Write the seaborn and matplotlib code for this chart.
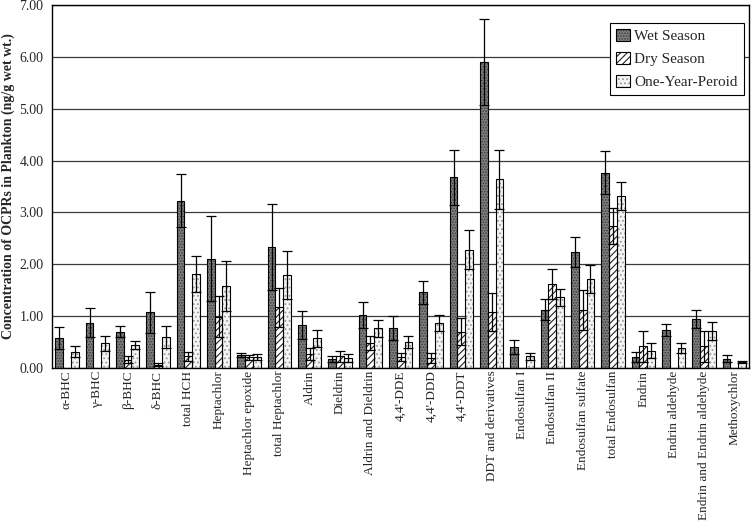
import numpy as np
import pandas as pd
import matplotlib
matplotlib.use("Agg")
import matplotlib.pyplot as plt
from matplotlib.patches import Rectangle, Patch
import seaborn as sns

categories = ["α-BHC", "γ-BHC", "β-BHC", "δ-BHC", "total HCH", "Heptachlor",
              "Heptachlor epoxide", "total Heptachlor", "Aldrin", "Dieldrin",
              "Aldrin and Dieldrin", "4,4'-DDE", "4,4'-DDD", "4,4'-DDT",
              "DDT and derivatives", "Endosulfan I", "Endosulfan II",
              "Endosulfan sulfate", "total Endosulfan", "Endrin",
              "Endrin aldehyde", "Endrin and Endrin aldehyde", "Methoxychlor"]

wet = [0.58, 0.87, 0.70, 1.07, 3.23, 2.11, 0.24, 2.34, 0.83, 0.17, 1.02, 0.77,
       1.46, 3.68, 5.91, 0.40, 1.12, 2.24, 3.77, 0.21, 0.73, 0.94, 0.18]
wet_err = [0.21, 0.28, 0.11, 0.40, 0.52, 0.82, 0.04, 0.83, 0.27, 0.06, 0.25, 0.23,
           0.22, 0.53, 0.83, 0.13, 0.20, 0.29, 0.42, 0.09, 0.12, 0.18, 0.06]

dry = [np.nan, np.nan, 0.16, 0.06, 0.22, 0.99, 0.20, 1.17, 0.27, 0.22, 0.48, 0.21,
       0.19, 0.70, 1.08, np.nan, 1.62, 1.12, 2.74, 0.42, np.nan, 0.42, np.nan]
dry_err = [np.nan, np.nan, 0.06, 0.03, 0.08, 0.39, 0.05, 0.38, 0.11, 0.10, 0.14, 0.07,
           0.09, 0.26, 0.36, np.nan, 0.29, 0.39, 0.35, 0.30, np.nan, 0.30, np.nan]

oneyear = [0.31, 0.47, 0.44, 0.60, 1.81, 1.58, 0.21, 1.79, 0.57, 0.19, 0.76, 0.50,
           0.87, 2.28, 3.64, 0.22, 1.36, 1.72, 3.31, 0.33, 0.38, 0.71, 0.12]
oneyear_err = [0.11, 0.15, 0.07, 0.21, 0.34, 0.48, 0.05, 0.47, 0.16, 0.07, 0.17, 0.12,
               0.15, 0.38, 0.57, 0.07, 0.17, 0.27, 0.27, 0.14, 0.09, 0.17, 0.02]

series = ["Wet Season", "Dry Season", "One-Year-Peroid"]
values = {"Wet Season": wet, "Dry Season": dry, "One-Year-Peroid": oneyear}
errors = {"Wet Season": wet_err, "Dry Season": dry_err, "One-Year-Peroid": oneyear_err}

rows = []
for s in series:
    for c, v, e in zip(categories, values[s], errors[s]):
        rows.append({"compound": c, "season": s, "value": v, "err": e})
df = pd.DataFrame(rows)

sns.set_style("white")
plt.rcParams["font.family"] = ["Liberation Serif", "DejaVu Serif"]
plt.rcParams["hatch.linewidth"] = 0.8

styles = {
    "Wet Season": dict(fc="#7e7e7e", hc="#3c3c3c", hatch="......"),
    "Dry Season": dict(fc="white", hc="#222222", hatch="/////"),
    "One-Year-Peroid": dict(fc="#f4f4f4", hc="#9a9a9a", hatch="...."),
}

fig, ax = plt.subplots(figsize=(7.51, 5.21), dpi=100)
fig.subplots_adjust(left=0.069, right=0.998, top=0.990, bottom=0.294)

sns.barplot(data=df.dropna(subset=["value"]), x="compound", y="value", hue="season",
            order=categories, hue_order=series, width=0.76, errorbar=None,
            legend=False, ax=ax, zorder=2)

for s, cont in zip(series, ax.containers):
    st = styles[s]
    for bar in cont:
        bar.set_facecolor(st["fc"])
        bar.set_edgecolor(st["hc"])
        bar.set_hatch(st["hatch"])
        bar.set_linewidth(0)
        ax.add_patch(Rectangle(bar.get_xy(), bar.get_width(), bar.get_height(),
                               fill=False, ec="black", lw=0.8, zorder=3))
        cx = bar.get_x() + bar.get_width() / 2
        idx = int(round(cx))
        e = errors[s][idx]
        if not np.isnan(e):
            ax.errorbar(cx, bar.get_height(), yerr=e, fmt="none", ecolor="black",
                        elinewidth=0.9, capsize=3.4, capthick=0.9, zorder=4)

ax.set_xlim(-0.5, len(categories) - 0.5)
ax.set_ylim(0, 7)
ax.set_yticks(np.arange(0, 8, 1))
ax.set_yticklabels([f"{v:.2f}" for v in np.arange(0, 8, 1)], fontsize=10)
ax.yaxis.grid(True, color="#3a3a3a", lw=0.9)
ax.set_axisbelow(True)

ax.set_xticks(range(len(categories)))
ax.set_xticklabels(categories, rotation=90, fontsize=9.5)
ax.set_xticks(np.arange(-0.5, len(categories), 1), minor=True)
ax.tick_params(axis="x", which="major", length=0, pad=2)
ax.tick_params(axis="x", which="minor", length=4, width=0.9, color="black", direction="out")
ax.tick_params(axis="y", which="major", length=4, width=0.9, color="black", direction="out", pad=2)

ax.set_xlabel("")
ax.set_ylabel("Concentration of OCPRs in Plankton (ng/g wet wt.)", fontsize=10,
              fontweight="bold", labelpad=3)

for sp in ax.spines.values():
    sp.set_visible(True)
    sp.set_color("black")
    sp.set_linewidth(1.0)

handles = []
for s in series:
    st = styles[s]
    p1 = Patch(facecolor=st["fc"], edgecolor=st["hc"], hatch=st["hatch"], lw=0)
    p2 = Patch(fill=False, edgecolor="black", lw=0.8)
    handles.append((p1, p2))
leg = ax.legend(handles=handles, labels=series, loc="upper right",
                bbox_to_anchor=(0.992, 0.952), borderaxespad=0, fontsize=11,
                frameon=True, fancybox=False, edgecolor="black", framealpha=1,
                handlelength=0.9, handleheight=0.9, handletextpad=0.3,
                labelspacing=0.55, borderpad=0.4)
leg.get_frame().set_linewidth(0.8)

fig.savefig("out.png", dpi=100)
